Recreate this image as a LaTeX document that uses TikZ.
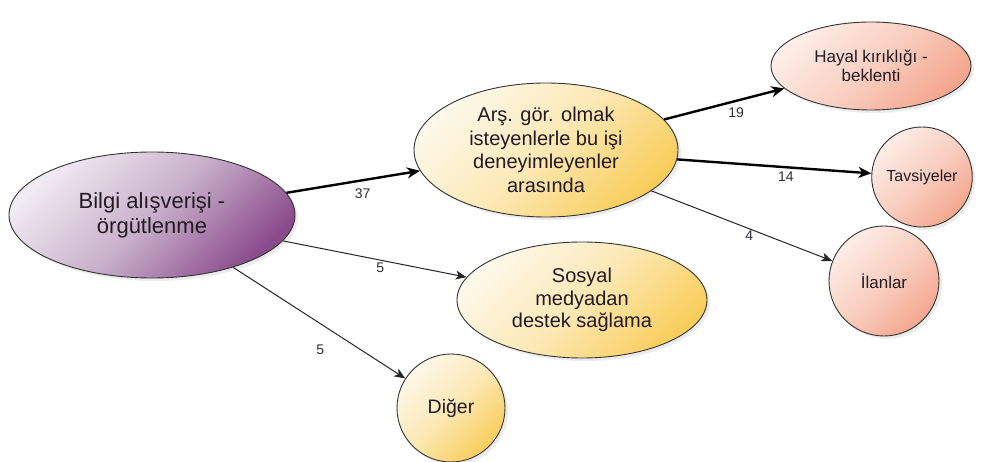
\documentclass[tikz,border=0pt]{standalone}
\usepackage{fontspec}
\setmainfont{Liberation Sans}
\usetikzlibrary{shapes.geometric,arrows.meta,shadows}
\definecolor{purpA}{HTML}{F0EAF2}
\definecolor{purpM}{HTML}{C8B0CA}
\definecolor{purpB}{HTML}{8A4A8C}
\definecolor{yelA}{HTML}{FDF8EA}
\definecolor{yelM}{HTML}{FCE8B4}
\definecolor{yelB}{HTML}{F8CD5A}
\definecolor{pinkA}{HTML}{FDEDE7}
\definecolor{pinkM}{HTML}{F9CFC1}
\definecolor{pinkB}{HTML}{F4A68E}
\definecolor{txt}{HTML}{231A24}
\definecolor{lbltxt}{HTML}{2E2E3A}
\begin{document}
\begin{tikzpicture}[x=1pt,y=-1pt,
  bubble/.style={ellipse, draw=black!80, line width=0.9pt, inner sep=0pt, align=center, text=txt,
    drop shadow={opacity=0.15, shadow xshift=3pt, shadow yshift=-3pt}},
  purp/.style={bubble, top color=purpA, bottom color=purpB, middle color=purpM, shading angle=45},
  yel/.style={bubble, top color=yelA, bottom color=yelB, middle color=yelM, shading angle=45},
  pink/.style={bubble, top color=pinkA, bottom color=pinkB, middle color=pinkM, shading angle=45},
  thickedge/.style={line width=2.4pt, draw=black, -{Stealth[length=13pt,width=11pt,inset=4pt]}},
  thinedge/.style={line width=1pt, draw=black!85, -{Stealth[length=11pt,width=9pt,inset=3pt]}},
  lbl/.style={font=\fontsize{14}{14}\selectfont, text=lbltxt, inner sep=1pt}
]
\useasboundingbox (0,0) rectangle (989,462);
\fill[white] (0,0) rectangle (989,462);

\node[purp, minimum width=286, minimum height=126, font=\fontsize{22}{25}\selectfont] (P) at (152,215) {Bilgi alışverişi -\\örgütlenme};
\node[yel, minimum width=264, minimum height=134, font=\fontsize{20}{23.5}\selectfont] (A) at (546,150) {Arş. gör. olmak\\isteyenlerle bu işi\\deneyimleyenler\\arasında};
\node[yel, minimum width=250, minimum height=116, font=\fontsize{20}{22.5}\selectfont] (S) at (582,300) {Sosyal\\medyadan\\destek sağlama};
\node[yel, minimum width=108, minimum height=108, font=\fontsize{19.5}{22}\selectfont] (D) at (451,408) {Diğer};
\node[pink, minimum width=200, minimum height=88, font=\fontsize{17}{19}\selectfont] (H) at (871,66) {Hayal kırıklığı -\\beklenti};
\node[pink, minimum width=100, minimum height=100, font=\fontsize{16}{18}\selectfont] (T) at (922,177) {Tavsiyeler};
\node[pink, minimum width=110, minimum height=110, font=\fontsize{17}{19}\selectfont] (I) at (884,281) {İlanlar};

\draw[thickedge] (P) -- node[lbl, pos=0.57, below=6pt] {37} (A);
\draw[thinedge] (P) -- node[lbl, pos=0.53, below=1pt] {5} (S);
\draw[thinedge] (P) -- node[lbl, pos=0.55, anchor=north east, xshift=-2pt, yshift=-15pt] {5} (D);
\draw[thickedge] (A) -- node[lbl, pos=0.6, below=5pt] {19} (H);
\draw[thickedge] (A) -- node[lbl, pos=0.56, below=2pt] {14} (T);
\draw[thinedge] (A) -- node[lbl, pos=0.53, anchor=north, xshift=2pt, yshift=-1pt] {4} (I);
\end{tikzpicture}
\end{document}
